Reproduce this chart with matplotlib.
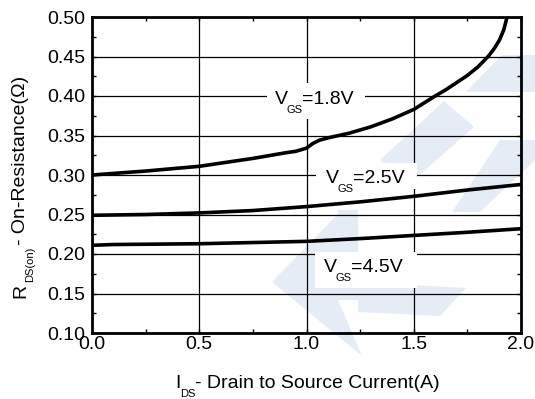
import matplotlib
matplotlib.use('Agg')
import matplotlib.pyplot as plt
from matplotlib.font_manager import FontProperties
from matplotlib.patches import Rectangle, Polygon
from matplotlib.transforms import offset_copy

# R_DS(on) vs I_DS for three gate voltages
ids_18 = [0.0, 0.25, 0.5, 0.75, 0.9, 0.95, 1.0, 1.03, 1.06, 1.1, 1.2, 1.3,
          1.4, 1.5, 1.6, 1.65, 1.7, 1.75, 1.8, 1.85, 1.875, 1.9, 1.92, 1.935]
rds_18 = [0.300, 0.305, 0.311, 0.321, 0.328, 0.330, 0.334, 0.340, 0.344,
          0.347, 0.353, 0.361, 0.371, 0.383, 0.400, 0.408, 0.417, 0.426,
          0.437, 0.451, 0.460, 0.471, 0.484, 0.500]
ids_25 = [0.0, 0.25, 0.5, 0.75, 1.0, 1.25, 1.5, 1.75, 2.0]
rds_25 = [0.249, 0.250, 0.252, 0.255, 0.260, 0.266, 0.273, 0.281, 0.288]
ids_45 = [0.0, 0.1, 0.5, 0.75, 1.0, 1.25, 1.5, 1.75, 2.0]
rds_45 = [0.211, 0.212, 0.213, 0.2145, 0.216, 0.2195, 0.2235, 0.2275, 0.232]

x_ticks = [0.0, 0.5, 1.0, 1.5, 2.0]
y_ticks = [0.10, 0.15, 0.20, 0.25, 0.30, 0.35, 0.40, 0.45, 0.50]

FONT = 'Liberation Sans'
W, H = 535, 399

fig = plt.figure(figsize=(W / 100, H / 100), dpi=100, facecolor='white')
ax = fig.add_axes([92 / W, 1 - 333 / H, 429 / W, 316 / H])
ax.patch.set_facecolor('none')

# faint logo in the background (pixel coords, y from top)
logo = [
    [(466, 92), (502, 55), (535, 55), (535, 92)],
    [(444, 101), (474, 127), (408, 185), (380, 160)],
    [(338, 210), (358, 210), (358, 300), (338, 300)],
    [(358, 282), (466, 288), (440, 316), (358, 312)],
    [(272, 282), (338, 214), (338, 300), (362, 356)],
    [(500, 140), (535, 140), (535, 160), (480, 212), (452, 212)],
]
for pts in logo:
    fig.patches.append(Polygon([(px / W, 1 - py / H) for px, py in pts],
                               closed=True, transform=fig.transFigure,
                               facecolor='#e6ecf6', edgecolor='none', zorder=-5))

for xs, ys in [(ids_18, rds_18), (ids_25, rds_25), (ids_45, rds_45)]:
    ax.plot(xs, ys, color='black', lw=2.6, zorder=3,
            solid_capstyle='butt', solid_joinstyle='round')

ax.set_xlim(0, 2.0)
ax.set_ylim(0.10, 0.50)
ax.set_xticks(x_ticks)
ax.set_yticks(y_ticks)
ax.set_xticklabels(['%.1f' % v for v in x_ticks])
ax.set_yticklabels(['%.2f' % v for v in y_ticks])
ax.set_xticks([0.25, 0.75, 1.25, 1.75], minor=True)
ax.set_yticks([0.125, 0.175, 0.225, 0.275, 0.325, 0.375, 0.425, 0.475], minor=True)
ax.tick_params(which='both', direction='in', top=True, right=True,
               width=1.0, color='black', length=3)
ax.tick_params(axis='x', pad=2.5)
ax.tick_params(axis='y', pad=4.5)
for lab in ax.get_xticklabels() + ax.get_yticklabels():
    lab.set_fontfamily(FONT)
    lab.set_fontsize(14)
for sp in ax.spines.values():
    sp.set_linewidth(2.0)
    sp.set_zorder(5)
ax.set_axisbelow(True)
ax.grid(True, which='major', color='black', lw=0.9)

# white boxes behind curve labels (hide the grid)
for x0, y0, x1, y1 in [(0.814, 0.3713, 1.271, 0.4168),
                       (1.042, 0.2827, 1.513, 0.3156),
                       (1.038, 0.1573, 1.513, 0.2029)]:
    ax.add_patch(Rectangle((x0, y0), x1 - x0, y1 - y0, facecolor='white',
                           edgecolor='none', zorder=1))

fig.canvas.draw()
renderer = fig.canvas.get_renderer()


def piece_width(s, size):
    fp = FontProperties(family=FONT, size=size)
    w, h, d = renderer.get_text_width_height_descent(s, fp, ismath=False)
    return w


def draw_pieces(x, y, pieces, transform, rotation=0, center=False, gap=0.0):
    # pieces: (text, fontsize, drop in px); drop lowers a subscript
    widths = [piece_width(s, size) for s, size, drop in pieces]
    total = sum(widths) + gap * (len(pieces) - 1)
    pos = -total / 2 if center else 0
    for (s, size, drop), w in zip(pieces, widths):
        if rotation == 0:
            dx, dy = pos, -drop
        else:
            dx, dy = drop, pos
        tr = offset_copy(transform, fig=fig, x=dx, y=dy, units='dots')
        fig.text(x, y, s, transform=tr, family=FONT, fontsize=size,
                 rotation=rotation, rotation_mode='anchor',
                 ha='left', va='baseline', zorder=6)
        pos += w + gap


# curve labels
for x, y, volt in [(0.851, 0.3903, '1.8V'),
                   (1.089, 0.2899, '2.5V'),
                   (1.080, 0.1772, '4.5V')]:
    draw_pieces(x, y, [('V', 14, 0), ('GS', 8, 9), ('=' + volt, 14, 0)],
                ax.transData, gap=-1.0)

# axis titles
draw_pieces(307 / W, 1 - 388 / H,
            [('I', 14, 0), ('DS', 8, 9), ('- Drain to Source Current(A)', 14, 0)],
            fig.transFigure, center=True, gap=-0.5)
draw_pieces(25 / W, 1 - 187 / H,
            [('R', 14, 0), ('DS(on)', 8, 8), ('- On-Resistance(\u03a9)', 14, 0)],
            fig.transFigure, rotation=90, center=True, gap=2.0)

fig.savefig('out.png', dpi=100, facecolor='white')
